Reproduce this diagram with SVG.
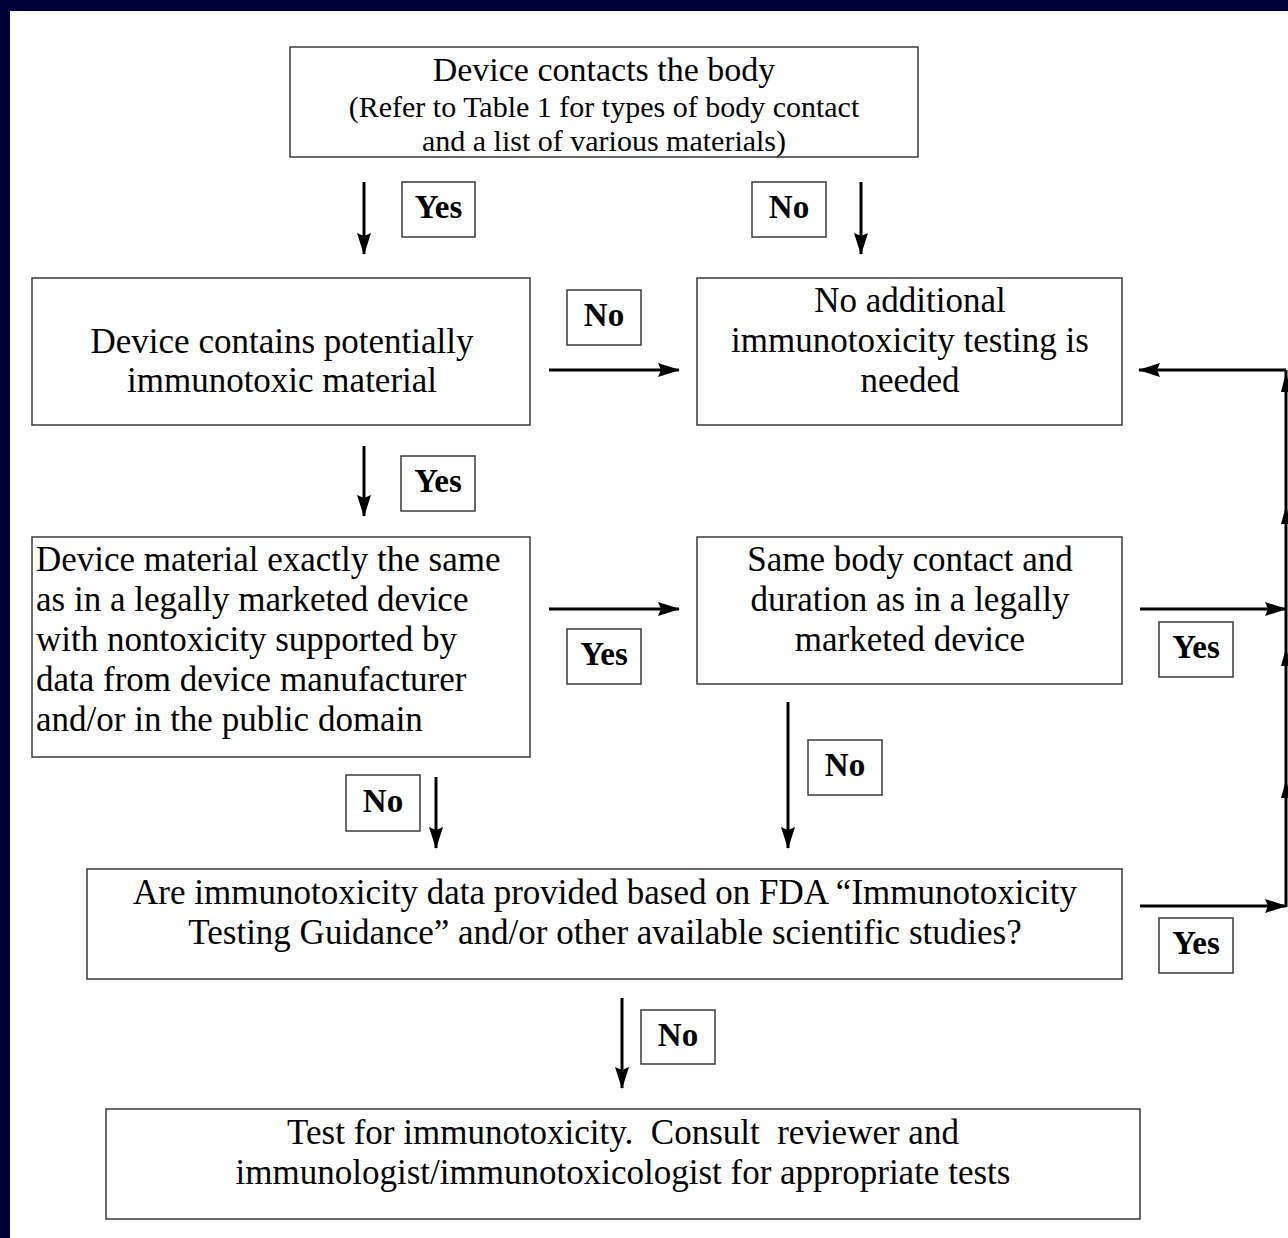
<svg xmlns="http://www.w3.org/2000/svg" width="1288" height="1238" viewBox="0 0 1288 1238">
<defs>
<style>
.box{fill:#fff;stroke:#3a3a3a;stroke-width:1.5}
.t{font-family:"Liberation Serif","Times New Roman",serif;fill:#000;white-space:pre}
.m{font-size:35px}
.s{font-size:30px}
.c{text-anchor:middle}
.lbl{font-family:"Liberation Serif","Times New Roman",serif;font-weight:bold;font-size:33px;text-anchor:middle;fill:#000}
.ln{stroke:#000;stroke-width:3;fill:none}
.ah{fill:#000}
</style>
<marker id="arr" markerUnits="userSpaceOnUse" markerWidth="24" markerHeight="16" refX="21" refY="7" orient="auto">
<path d="M0,0 L22,7 L0,14 L3,7 Z" fill="#000"/>
</marker>
</defs>
<rect x="0" y="0" width="1288" height="1238" fill="#fff"/>
<rect x="0" y="0" width="1288" height="11" fill="#000038"/>
<rect x="0" y="0" width="10" height="1238" fill="#000038"/>

<g id="n-contact">
<rect class="box" x="290" y="47" width="628" height="110"/>
<text class="t c" x="604" y="81" font-size="34">Device contacts the body</text>
<text class="t s c" x="604" y="117">(Refer to Table 1 for types of body contact</text>
<text class="t s c" x="604" y="151">and a list of various materials)</text>
</g>

<g id="n-contains">
<rect class="box" x="32" y="278" width="498" height="147"/>
<text class="t m c" x="282" y="353">Device contains potentially</text>
<text class="t m c" x="282" y="392">immunotoxic material</text>
</g>

<g id="n-noadd">
<rect class="box" x="697" y="278" width="425" height="147"/>
<text class="t m c" x="910" y="312">No additional</text>
<text class="t m c" x="910" y="352">immunotoxicity testing is</text>
<text class="t m c" x="910" y="392">needed</text>
</g>

<g id="n-same-material">
<rect class="box" x="32" y="537" width="498" height="220"/>
<text class="t m" x="36" y="571">Device material exactly the same</text>
<text class="t m" x="36" y="611">as in a legally marketed device</text>
<text class="t m" x="36" y="651">with nontoxicity supported by</text>
<text class="t m" x="36" y="691">data from device manufacturer</text>
<text class="t m" x="36" y="731">and/or in the public domain</text>
</g>

<g id="n-same-contact">
<rect class="box" x="697" y="537" width="425" height="147"/>
<text class="t m c" x="910" y="571">Same body contact and</text>
<text class="t m c" x="910" y="611">duration as in a legally</text>
<text class="t m c" x="910" y="651">marketed device</text>
</g>

<g id="n-data">
<rect class="box" x="87" y="869" width="1035" height="110"/>
<text class="t m c" x="605" y="904">Are immunotoxicity data provided based on FDA “Immunotoxicity</text>
<text class="t m c" x="605" y="944">Testing Guidance” and/or other available scientific studies?</text>
</g>

<g id="n-test">
<rect class="box" x="106" y="1109" width="1034" height="110"/>
<text class="t m c" x="623" y="1144">Test for immunotoxicity.  Consult  reviewer and</text>
<text class="t m c" x="623" y="1184">immunologist/immunotoxicologist for appropriate tests</text>
</g>

<g id="labels">
<rect class="box" x="402" y="182" width="73" height="55"/><text class="lbl" x="438.5" y="218">Yes</text>
<rect class="box" x="752" y="182" width="74" height="55"/><text class="lbl" x="789" y="218">No</text>
<rect class="box" x="567" y="290" width="74" height="55"/><text class="lbl" x="604" y="326">No</text>
<rect class="box" x="401" y="456" width="74" height="55"/><text class="lbl" x="438" y="492">Yes</text>
<rect class="box" x="567" y="629" width="74" height="55"/><text class="lbl" x="604" y="665">Yes</text>
<rect class="box" x="1159" y="622" width="74" height="55"/><text class="lbl" x="1196" y="658">Yes</text>
<rect class="box" x="346" y="775" width="74" height="56"/><text class="lbl" x="383" y="812">No</text>
<rect class="box" x="808" y="740" width="74" height="55"/><text class="lbl" x="845" y="776">No</text>
<rect class="box" x="1159" y="918" width="74" height="55"/><text class="lbl" x="1196" y="954">Yes</text>
<rect class="box" x="641" y="1010" width="74" height="54"/><text class="lbl" x="678" y="1046">No</text>
</g>

<g id="connectors">
<line class="ln" x1="364" y1="182" x2="364" y2="254" marker-end="url(#arr)"/>
<line class="ln" x1="861" y1="182" x2="861" y2="254" marker-end="url(#arr)"/>
<line class="ln" x1="549" y1="370" x2="679" y2="370" marker-end="url(#arr)"/>
<line class="ln" x1="364" y1="446" x2="364" y2="516" marker-end="url(#arr)"/>
<line class="ln" x1="549" y1="609" x2="679" y2="609" marker-end="url(#arr)"/>
<line class="ln" x1="436" y1="777" x2="436" y2="848" marker-end="url(#arr)"/>
<line class="ln" x1="788" y1="702" x2="788" y2="848" marker-end="url(#arr)"/>
<line class="ln" x1="622" y1="998" x2="622" y2="1088" marker-end="url(#arr)"/>
<line class="ln" x1="1140" y1="609" x2="1286" y2="609" marker-end="url(#arr)"/>
<line class="ln" x1="1140" y1="906" x2="1286" y2="906" marker-end="url(#arr)"/>
<line class="ln" x1="1286" y1="907" x2="1286" y2="370"/>
<line class="ln" x1="1286" y1="370" x2="1139" y2="370" marker-end="url(#arr)"/>
<path class="ah" d="M1286,372 L1281,392 L1291,392 Z"/>
<path class="ah" d="M1286,506 L1281,524 L1291,524 Z"/>
<path class="ah" d="M1286,648 L1281,666 L1291,666 Z"/>
<path class="ah" d="M1286,780 L1281,798 L1291,798 Z"/>
</g>
</svg>
